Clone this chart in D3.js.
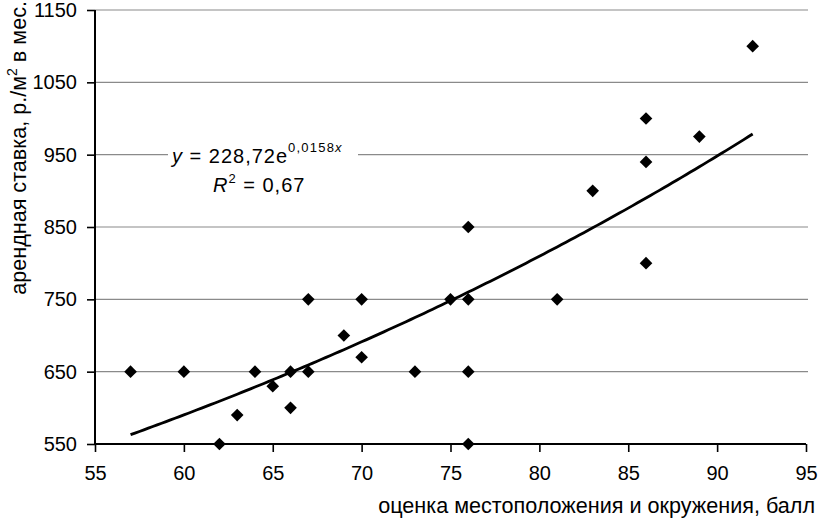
<!DOCTYPE html>
<html><head><meta charset="utf-8">
<script src="https://cdn.jsdelivr.net/npm/d3@7"></script>
<style>
html,body{margin:0;padding:0;background:#fff;}
svg{display:block;font-family:"Liberation Sans",Arial,sans-serif;}
</style></head>
<body>
<svg id="chart" width="819" height="518"></svg>
<script>
// Data
const scoreX = [57,60,62,63,64,65,66,66,67,67,69,70,70,73,75,76,76,76,76,81,83,86,86,86,89,92];
const rentY  = [650,650,550,590,650,630,650,600,650,750,700,750,670,650,750,850,750,650,550,750,900,1000,940,800,975,1100];
const xTicks = [55,60,65,70,75,80,85,90,95];
const yTicks = [550,650,750,850,950,1050,1150];
const trendCoef = [228.72, 0.0158]; // y = a*e^(b*x)
const trendRange = [57, 92];

const svg = d3.select("#chart");
const m = {left:95, right:806, top:10, bottom:444};
const x = d3.scaleLinear().domain([55,95]).range([m.left, m.right]);
const y = d3.scaleLinear().domain([550,1150]).range([m.bottom, m.top]);
const font = "Liberation Sans, Arial, sans-serif";

// gridlines
svg.append("g").selectAll("line").data(yTicks.filter(d=>d>550)).join("line")
  .attr("x1", m.left).attr("x2", m.right+2)
  .attr("y1", d=>y(d)).attr("y2", d=>y(d))
  .attr("stroke", "#8a8a8a").attr("stroke-width", 1.2);

// y axis
const yAxis = svg.append("g").attr("transform", `translate(${m.left},0)`)
  .call(d3.axisLeft(y).tickValues(yTicks).tickSize(8).tickPadding(10).tickFormat(d3.format("d")));
// x axis
const xAxis = svg.append("g").attr("transform", `translate(0,${m.bottom})`)
  .call(d3.axisBottom(x).tickValues(xTicks).tickSize(8).tickPadding(14).tickFormat(d3.format("d")));
[yAxis, xAxis].forEach(g=>{
  g.select(".domain").attr("stroke","#000").attr("stroke-width",2);
  g.selectAll(".tick line").attr("stroke","#000").attr("stroke-width",1.6);
  g.selectAll(".tick text").attr("font-family", font).attr("font-size", 20).attr("fill","#000");
});
xAxis.select(".domain").attr("d", `M${m.left},0H${m.right}`);
yAxis.select(".domain").attr("d", `M0,${m.bottom}V${m.top}`);

// trendline
const tx = d3.range(trendRange[0], trendRange[1]+0.001, 0.25);
svg.append("path")
  .datum(tx)
  .attr("d", d3.line().x(d=>x(d)).y(d=>y(trendCoef[0]*Math.exp(trendCoef[1]*d))))
  .attr("fill","none").attr("stroke","#000").attr("stroke-width",2.8);

// points
const sym = d3.symbol().type(d3.symbolSquare).size(80);
svg.append("g").selectAll("path").data(scoreX.map((d,i)=>[d, rentY[i]])).join("path")
  .attr("d", sym)
  .attr("transform", d=>`translate(${x(d[0])},${y(d[1])}) rotate(45)`)
  .attr("fill","#000");

// equation label
svg.append("rect").attr("x",168).attr("y",140).attr("width",190).attr("height",58).attr("fill","#fff");
const eq = svg.append("text").attr("x",172).attr("y",163).attr("font-family",font).attr("font-size",20)
  .attr("letter-spacing",1).attr("fill","#000");
eq.append("tspan").attr("font-style","italic").text("y");
eq.append("tspan").text(" = 228,72e");
eq.append("tspan").attr("dy",-11).attr("font-size",13).attr("letter-spacing",1.2).text("0,0158");
eq.append("tspan").attr("font-size",13).attr("font-style","italic").text("x");
const r2 = svg.append("text").attr("x",213).attr("y",192).attr("font-family",font).attr("font-size",20)
  .attr("letter-spacing",1).attr("fill","#000");
r2.append("tspan").attr("font-style","italic").text("R");
r2.append("tspan").attr("dy",-9).attr("font-size",13).text("2");
r2.append("tspan").attr("dy",9).text(" = 0,67");

// axis titles
svg.append("text").attr("x",815).attr("y",513).attr("text-anchor","end")
  .attr("font-family",font).attr("font-size",21.6).attr("fill","#000")
  .text("оценка местоположения и окружения, балл");
const yt = svg.append("text").attr("transform","translate(26,1) rotate(-90)").attr("text-anchor","end")
  .attr("font-family",font).attr("font-size",21.6).attr("fill","#000");
yt.append("tspan").text("арендная ставка, р./м");
yt.append("tspan").attr("dy",-9).attr("font-size",14).text("2");
yt.append("tspan").attr("dy",9).text(" в мес.");
</script>
</body></html>
